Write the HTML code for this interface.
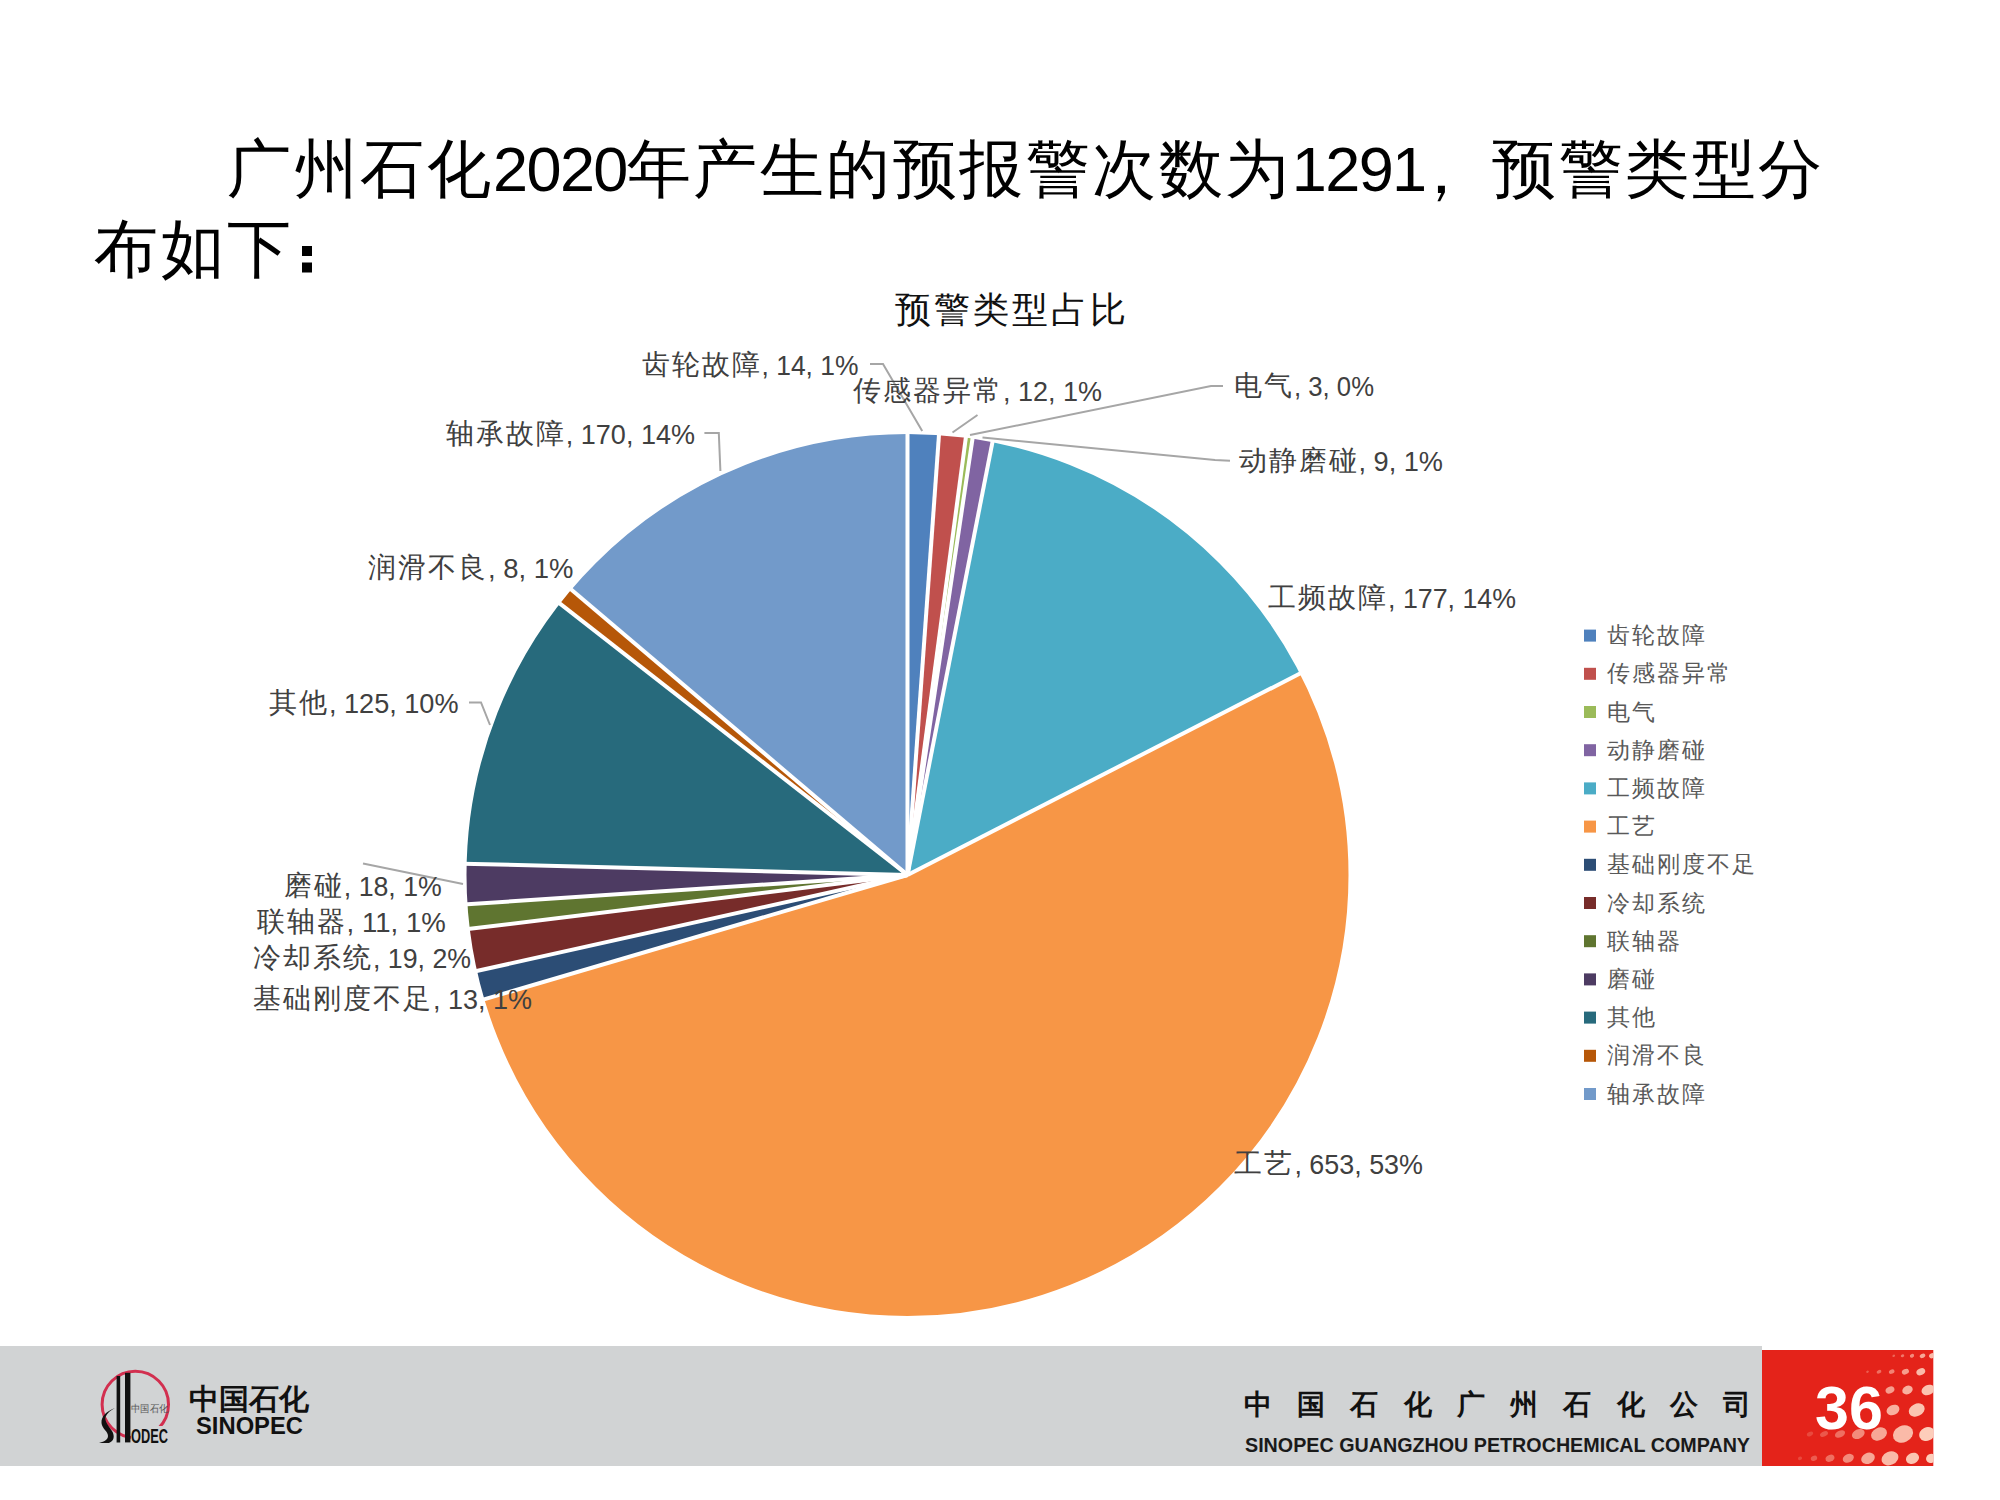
<!DOCTYPE html>
<html><head><meta charset="utf-8">
<style>
html,body{margin:0;padding:0;background:#fff;}
body{width:2000px;height:1500px;position:relative;overflow:hidden;font-family:"Liberation Sans",sans-serif;}
.title{position:absolute;left:94px;top:129px;width:1780px;font-size:64px;letter-spacing:2.5px;line-height:80px;color:#000;white-space:nowrap;}
.title .d{font-size:63px;letter-spacing:-1.6px;line-height:0;}
svg{position:absolute;left:0;top:0;}
text{fill:#404040;}
.cj{font-family:"Liberation Serif",serif;font-size:28px;letter-spacing:2px;}
.nu{font-family:"Liberation Sans",sans-serif;font-size:28px;}
.lg{font-family:"Liberation Serif",serif;font-size:23px;letter-spacing:2.1px;fill:#595959;}
.ct{font-family:"Liberation Serif",serif;font-size:36px;letter-spacing:3.1px;fill:#111;}
</style></head><body>
<div class="title">&#12288;&#12288;广州石化<span class="d">2020</span>年产生的预报警次数为<span class="d">1291</span><span style="position:relative;left:-17px;top:2px">，</span>预警类型分<br>布如下</div>
<svg width="2000" height="1500" viewBox="0 0 2000 1500">
<text x="895" y="322" class="ct">预警类型占比</text>
<g><path d="M907.5,875 L907.50,432.00 A443,443 0 0 1 939.10,433.13 Z" fill="#4F81BD"/>
<path d="M907.5,875 L939.10,433.13 A443,443 0 0 1 966.07,435.89 Z" fill="#C0504D"/>
<path d="M907.5,875 L966.07,435.89 A443,443 0 0 1 972.78,436.84 Z" fill="#9BBB59"/>
<path d="M907.5,875 L972.78,436.84 A443,443 0 0 1 992.82,440.29 Z" fill="#8064A2"/>
<path d="M907.5,875 L992.82,440.29 A443,443 0 0 1 1301.60,672.68 Z" fill="#4BACC6"/>
<path d="M907.5,875 L1301.60,672.68 A443,443 0 1 1 482.44,999.81 Z" fill="#F79646"/>
<path d="M907.5,875 L482.44,999.81 A443,443 0 0 1 475.11,971.37 Z" fill="#2C4D75"/>
<path d="M907.5,875 L475.11,971.37 A443,443 0 0 1 467.81,929.09 Z" fill="#772C2A"/>
<path d="M907.5,875 L467.81,929.09 A443,443 0 0 1 465.47,904.35 Z" fill="#5F7530"/>
<path d="M907.5,875 L465.47,904.35 A443,443 0 0 1 464.64,863.70 Z" fill="#4D3B62"/>
<path d="M907.5,875 L464.64,863.70 A443,443 0 0 1 558.35,602.34 Z" fill="#276A7C"/>
<path d="M907.5,875 L558.35,602.34 A443,443 0 0 1 569.76,588.33 Z" fill="#B65708"/>
<path d="M907.5,875 L569.76,588.33 A443,443 0 0 1 907.50,432.00 Z" fill="#729ACA"/></g>
<g stroke="#fff" stroke-width="4"><line x1="907.5" y1="875" x2="907.50" y2="430.00"/>
<line x1="907.5" y1="875" x2="939.25" y2="431.13"/>
<line x1="907.5" y1="875" x2="966.33" y2="433.91"/>
<line x1="907.5" y1="875" x2="973.08" y2="434.86"/>
<line x1="907.5" y1="875" x2="993.20" y2="438.33"/>
<line x1="907.5" y1="875" x2="1303.38" y2="671.76"/>
<line x1="907.5" y1="875" x2="480.53" y2="1000.37"/>
<line x1="907.5" y1="875" x2="473.16" y2="971.81"/>
<line x1="907.5" y1="875" x2="465.83" y2="929.33"/>
<line x1="907.5" y1="875" x2="463.48" y2="904.48"/>
<line x1="907.5" y1="875" x2="462.64" y2="863.65"/>
<line x1="907.5" y1="875" x2="556.77" y2="601.11"/>
<line x1="907.5" y1="875" x2="568.24" y2="587.03"/></g>
<circle cx="907.5" cy="875" r="443" fill="none" stroke="#fff" stroke-width="4"/>
<g fill="none" stroke="#A6A6A6" stroke-width="2"><polyline points="870,364 883,364 922.2,431"/>
<polyline points="977.5,415 952.5,432.5"/>
<polyline points="1223,386 1211,386 970,435"/>
<polyline points="1230,460.7 1215,460 982.5,437.5"/>
<polyline points="704.4,433 718.8,433 720.4,471"/>
<polyline points="469,702.5 481,702.5 490,725"/>
<polyline points="363,863.6 463,884"/></g>
<text x="641.5" y="373.5" class="cj">齿轮故障</text>
<text x="761.5" y="374.8" class="nu" textLength="97.0" lengthAdjust="spacingAndGlyphs">, 14, 1%</text>
<text x="853.0" y="399.5" class="cj">传感器异常</text>
<text x="1003.0" y="400.8" class="nu" textLength="99.0" lengthAdjust="spacingAndGlyphs">, 12, 1%</text>
<text x="1234.0" y="394.5" class="cj">电气</text>
<text x="1294.0" y="395.8" class="nu" textLength="80.0" lengthAdjust="spacingAndGlyphs">, 3, 0%</text>
<text x="1238.5" y="470.1" class="cj">动静磨碰</text>
<text x="1358.5" y="471.4" class="nu" textLength="84.5" lengthAdjust="spacingAndGlyphs">, 9, 1%</text>
<text x="1268.0" y="606.5" class="cj">工频故障</text>
<text x="1388.0" y="607.8" class="nu" textLength="128.0" lengthAdjust="spacingAndGlyphs">, 177, 14%</text>
<text x="1234.4" y="1172.5" class="cj">工艺</text>
<text x="1294.4" y="1173.8" class="nu" textLength="128.6" lengthAdjust="spacingAndGlyphs">, 653, 53%</text>
<text x="253.0" y="1007.5" class="cj">基础刚度不足</text>
<text x="433.0" y="1008.8" class="nu" textLength="99.0" lengthAdjust="spacingAndGlyphs">, 13, 1%</text>
<text x="253.0" y="966.5" class="cj">冷却系统</text>
<text x="373.0" y="967.8" class="nu" textLength="98.0" lengthAdjust="spacingAndGlyphs">, 19, 2%</text>
<text x="256.6" y="930.5" class="cj">联轴器</text>
<text x="346.6" y="931.8" class="nu" textLength="99.2" lengthAdjust="spacingAndGlyphs">, 11, 1%</text>
<text x="283.8" y="894.5" class="cj">磨碰</text>
<text x="343.8" y="895.8" class="nu" textLength="98.0" lengthAdjust="spacingAndGlyphs">, 18, 1%</text>
<text x="269.0" y="711.5" class="cj">其他</text>
<text x="329.0" y="712.8" class="nu" textLength="129.5" lengthAdjust="spacingAndGlyphs">, 125, 10%</text>
<text x="368.0" y="576.5" class="cj">润滑不良</text>
<text x="488.0" y="577.8" class="nu" textLength="85.5" lengthAdjust="spacingAndGlyphs">, 8, 1%</text>
<text x="445.8" y="443.1" class="cj">轴承故障</text>
<text x="565.8" y="444.4" class="nu" textLength="129.2" lengthAdjust="spacingAndGlyphs">, 170, 14%</text>
<rect x="1584" y="629.6" width="12" height="12" fill="#4F81BD"/>
<text x="1607" y="643.1" class="lg">齿轮故障</text>
<rect x="1584" y="667.8" width="12" height="12" fill="#C0504D"/>
<text x="1607" y="681.3" class="lg">传感器异常</text>
<rect x="1584" y="706.0" width="12" height="12" fill="#9BBB59"/>
<text x="1607" y="719.5" class="lg">电气</text>
<rect x="1584" y="744.2" width="12" height="12" fill="#8064A2"/>
<text x="1607" y="757.7" class="lg">动静磨碰</text>
<rect x="1584" y="782.4" width="12" height="12" fill="#4BACC6"/>
<text x="1607" y="795.9" class="lg">工频故障</text>
<rect x="1584" y="820.6" width="12" height="12" fill="#F79646"/>
<text x="1607" y="834.1" class="lg">工艺</text>
<rect x="1584" y="858.8" width="12" height="12" fill="#2C4D75"/>
<text x="1607" y="872.3" class="lg">基础刚度不足</text>
<rect x="1584" y="897.0" width="12" height="12" fill="#772C2A"/>
<text x="1607" y="910.5" class="lg">冷却系统</text>
<rect x="1584" y="935.2" width="12" height="12" fill="#5F7530"/>
<text x="1607" y="948.7" class="lg">联轴器</text>
<rect x="1584" y="973.4" width="12" height="12" fill="#4D3B62"/>
<text x="1607" y="986.9" class="lg">磨碰</text>
<rect x="1584" y="1011.6" width="12" height="12" fill="#276A7C"/>
<text x="1607" y="1025.1" class="lg">其他</text>
<rect x="1584" y="1049.8" width="12" height="12" fill="#B65708"/>
<text x="1607" y="1063.3" class="lg">润滑不良</text>
<rect x="1584" y="1088.0" width="12" height="12" fill="#729ACA"/>
<text x="1607" y="1101.5" class="lg">轴承故障</text>
<rect x="302" y="246" width="10" height="10" fill="#000"/>
<rect x="302" y="262.5" width="10" height="10" fill="#000"/>
<!-- footer -->
<rect x="0" y="1346" width="1762" height="120" fill="#D1D3D4"/>
<rect x="1762" y="1350" width="171.3" height="116" fill="#E4231A"/>
<clipPath id="rc"><rect x="1762" y="1350" width="171.3" height="116"/></clipPath>
<g clip-path="url(#rc)"><ellipse cx="1893.75" cy="1355.8" rx="1.4" ry="1.1" transform="rotate(-25 1893.75 1355.8)" fill="#FFE0CC" fill-opacity="0.35"/>
<ellipse cx="1902.5" cy="1355.8" rx="1.8" ry="1.4" transform="rotate(-25 1902.5 1355.8)" fill="#FFE0CC" fill-opacity="0.45"/>
<ellipse cx="1912" cy="1355.8" rx="2.2" ry="1.8" transform="rotate(-25 1912 1355.8)" fill="#FFE0CC" fill-opacity="0.55"/>
<ellipse cx="1922.5" cy="1355.8" rx="2.9" ry="2.1" transform="rotate(-25 1922.5 1355.8)" fill="#FFE0CC" fill-opacity="0.7"/>
<ellipse cx="1932" cy="1355.8" rx="3" ry="2.5" transform="rotate(-25 1932 1355.8)" fill="#FFE0CC" fill-opacity="0.8"/>
<ellipse cx="1867.5" cy="1371.7" rx="1.4" ry="1.1" transform="rotate(-25 1867.5 1371.7)" fill="#FFE0CC" fill-opacity="0.3"/>
<ellipse cx="1879" cy="1371.7" rx="2.5" ry="1.7" transform="rotate(-25 1879 1371.7)" fill="#FFE0CC" fill-opacity="0.4"/>
<ellipse cx="1891.7" cy="1371.7" rx="2.9" ry="2.1" transform="rotate(-25 1891.7 1371.7)" fill="#FFE0CC" fill-opacity="0.5"/>
<ellipse cx="1905.4" cy="1371.7" rx="3.7" ry="2.6" transform="rotate(-25 1905.4 1371.7)" fill="#FFE0CC" fill-opacity="0.65"/>
<ellipse cx="1920.8" cy="1371.7" rx="4.6" ry="3.3" transform="rotate(-25 1920.8 1371.7)" fill="#FFE0CC" fill-opacity="0.8"/>
<ellipse cx="1890" cy="1390" rx="4.6" ry="3.3" transform="rotate(-25 1890 1390)" fill="#FFE0CC" fill-opacity="0.65"/>
<ellipse cx="1907.5" cy="1390" rx="5.4" ry="4.2" transform="rotate(-25 1907.5 1390)" fill="#FFE0CC" fill-opacity="0.75"/>
<ellipse cx="1928" cy="1390" rx="6.7" ry="5" transform="rotate(-25 1928 1390)" fill="#FFE0CC" fill-opacity="0.85"/>
<ellipse cx="1893" cy="1410" rx="6.7" ry="5" transform="rotate(-25 1893 1410)" fill="#FFE0CC" fill-opacity="0.75"/>
<ellipse cx="1916.7" cy="1410" rx="8.3" ry="6.2" transform="rotate(-25 1916.7 1410)" fill="#FFE0CC" fill-opacity="0.85"/>
<ellipse cx="1810" cy="1434" rx="3.3" ry="2.1" transform="rotate(-25 1810 1434)" fill="#FFE0CC" fill-opacity="0.2"/>
<ellipse cx="1824" cy="1434" rx="4.2" ry="2.5" transform="rotate(-25 1824 1434)" fill="#FFE0CC" fill-opacity="0.28"/>
<ellipse cx="1840" cy="1434" rx="5.4" ry="3.3" transform="rotate(-25 1840 1434)" fill="#FFE0CC" fill-opacity="0.4"/>
<ellipse cx="1858.3" cy="1434" rx="6.7" ry="4.6" transform="rotate(-25 1858.3 1434)" fill="#FFE0CC" fill-opacity="0.55"/>
<ellipse cx="1879" cy="1434" rx="8.3" ry="6.2" transform="rotate(-25 1879 1434)" fill="#FFE0CC" fill-opacity="0.7"/>
<ellipse cx="1903" cy="1434" rx="10.4" ry="8.3" transform="rotate(-25 1903 1434)" fill="#FFE0CC" fill-opacity="0.8"/>
<ellipse cx="1927" cy="1434" rx="8" ry="6.7" transform="rotate(-25 1927 1434)" fill="#FFE0CC" fill-opacity="0.9"/>
<ellipse cx="1800" cy="1458.3" rx="2.1" ry="1.7" transform="rotate(-25 1800 1458.3)" fill="#FFE0CC" fill-opacity="0.2"/>
<ellipse cx="1814" cy="1458.3" rx="3.3" ry="2.5" transform="rotate(-25 1814 1458.3)" fill="#FFE0CC" fill-opacity="0.3"/>
<ellipse cx="1830" cy="1458.3" rx="4.6" ry="3.3" transform="rotate(-25 1830 1458.3)" fill="#FFE0CC" fill-opacity="0.4"/>
<ellipse cx="1848.3" cy="1458.3" rx="5.8" ry="4.2" transform="rotate(-25 1848.3 1458.3)" fill="#FFE0CC" fill-opacity="0.55"/>
<ellipse cx="1868" cy="1458.3" rx="7" ry="5.4" transform="rotate(-25 1868 1458.3)" fill="#FFE0CC" fill-opacity="0.7"/>
<ellipse cx="1890" cy="1458.3" rx="8.7" ry="6.7" transform="rotate(-25 1890 1458.3)" fill="#FFE0CC" fill-opacity="0.8"/>
<ellipse cx="1912.5" cy="1458.3" rx="6.7" ry="5.4" transform="rotate(-25 1912.5 1458.3)" fill="#FFE0CC" fill-opacity="0.85"/>
<ellipse cx="1931" cy="1458.3" rx="5" ry="4.5" transform="rotate(-25 1931 1458.3)" fill="#FFE0CC" fill-opacity="0.9"/></g>
<text x="1849" y="1429" text-anchor="middle" style="font-family:'Liberation Sans',sans-serif;font-weight:bold;font-size:61px;fill:#fff">36</text>
<!-- logo -->
<g>
<circle cx="135.3" cy="1404.5" r="33.2" fill="none" stroke="#D22F4F" stroke-width="3"/>
<rect x="116.6" y="1376" width="3.6" height="66.5" fill="#111"/>
<rect x="125" y="1372.8" width="5.4" height="69.6" fill="#111"/>
<path d="M115,1408 C107,1411 101,1416 101.5,1423 C102,1429 108,1431 108,1436 C108,1440 103,1442 99,1443 L109,1443 C114,1441 115,1436 112,1431 C109,1426 104.5,1422 105.5,1417 C107,1413 111,1410 115,1408 Z" fill="#111"/>
<rect x="131" y="1426" width="38" height="18" fill="#D1D3D4"/>
<text x="131" y="1443" style="font-family:'Liberation Sans',sans-serif;font-weight:bold;font-size:20px;fill:#111" textLength="37" lengthAdjust="spacingAndGlyphs">ODEC</text>
<text x="131" y="1412" style="font-family:'Liberation Serif',serif;font-size:10px;fill:#555" textLength="37" lengthAdjust="spacingAndGlyphs">中国石化</text>
<text x="189" y="1409" style="font-family:'Liberation Serif',serif;font-weight:bold;font-size:29px;fill:#111" textLength="120" lengthAdjust="spacingAndGlyphs">中国石化</text>
<text x="196" y="1434" style="font-family:'Liberation Sans',sans-serif;font-weight:bold;font-size:23px;fill:#111" textLength="107" lengthAdjust="spacingAndGlyphs">SINOPEC</text>
</g>
<text x="1244" y="1414" style="font-family:'Liberation Sans',sans-serif;font-weight:bold;font-size:28px;fill:#111" textLength="507" lengthAdjust="spacing">中国石化广州石化公司</text>
<text x="1245" y="1452" style="font-family:'Liberation Sans',sans-serif;font-weight:bold;font-size:21px;fill:#1a1a1a" textLength="505" lengthAdjust="spacingAndGlyphs">SINOPEC GUANGZHOU  PETROCHEMICAL COMPANY</text>
</svg>
</body></html>
